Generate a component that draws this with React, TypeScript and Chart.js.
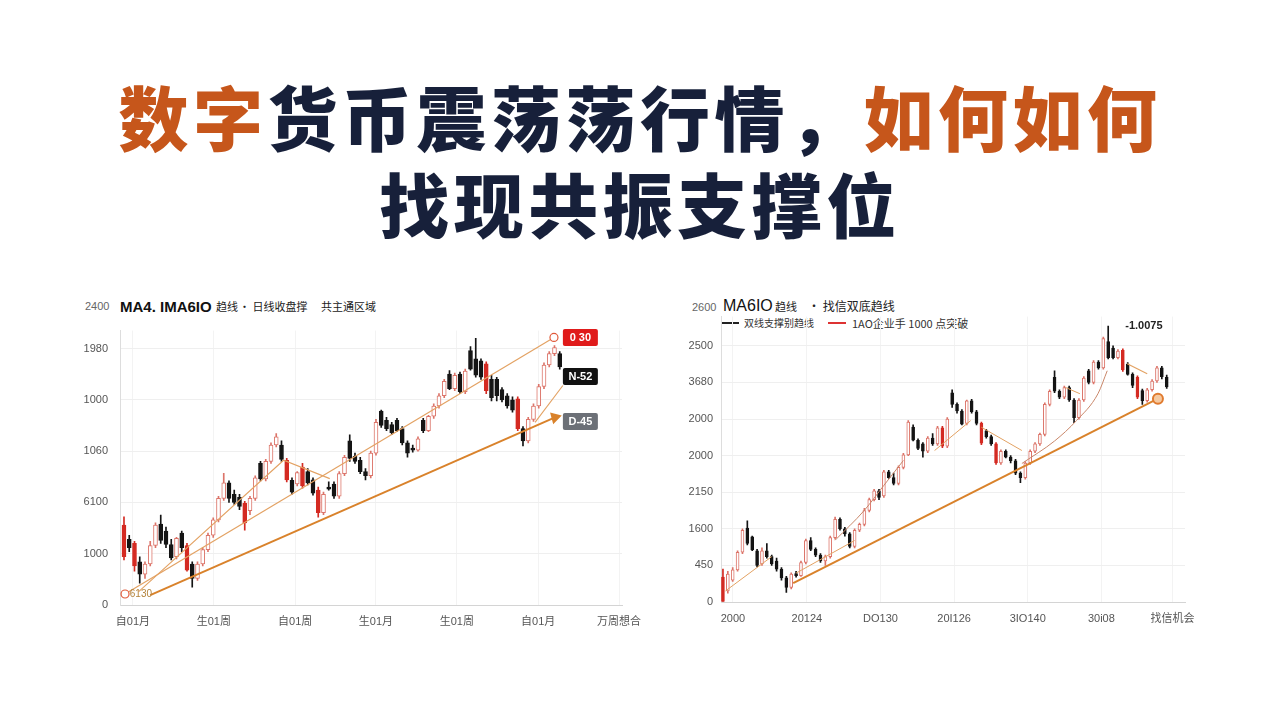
import React, { useEffect, useRef } from "react";
import { Chart, registerables } from "chart.js";
Chart.register(...registerables);

// ---------- Left chart data: [open, high, low, close] ----------
const leftCandles: number[][] = [
  [780, 860, 440, 470], [640, 680, 520, 560], [600, 620, 330, 380], [420, 470, 214, 300],
  [300, 420, 260, 400], [400, 620, 380, 580], [580, 800, 560, 780], [790, 876, 600, 630],
  [720, 760, 560, 590], [590, 640, 440, 460], [470, 660, 450, 650], [700, 720, 520, 560],
  [580, 600, 330, 340], [400, 420, 175, 260], [260, 420, 240, 400], [400, 560, 380, 540],
  [540, 700, 520, 680], [680, 850, 660, 830], [830, 1060, 810, 1040], [1040, 1284, 1020, 1190],
  [1190, 1210, 1000, 1040], [1080, 1120, 980, 1000], [1050, 1080, 930, 960], [990, 1010, 730, 800],
  [920, 1060, 880, 1040], [1040, 1260, 1020, 1240], [1380, 1400, 1210, 1230], [1230, 1420, 1210, 1400],
  [1400, 1580, 1380, 1560], [1560, 1670, 1540, 1640], [1560, 1600, 1400, 1420], [1410, 1430, 1200, 1220],
  [1216, 1240, 1080, 1100], [1180, 1300, 1160, 1290], [1345, 1380, 1140, 1160], [1300, 1330, 1170, 1190],
  [1220, 1240, 1070, 1090], [1120, 1150, 856, 900], [900, 1100, 880, 1080], [1150, 1200, 1120, 1130],
  [1180, 1200, 1040, 1060], [1060, 1300, 1040, 1280], [1280, 1460, 1260, 1440], [1600, 1660, 1400, 1430],
  [1450, 1480, 1380, 1400], [1410, 1440, 1280, 1300], [1300, 1330, 1220, 1260], [1260, 1500, 1240, 1480],
  [1480, 1810, 1460, 1780], [1890, 1900, 1730, 1750], [1800, 1830, 1700, 1720], [1760, 1780, 1660, 1680],
  [1800, 1820, 1690, 1700], [1720, 1740, 1560, 1580], [1580, 1600, 1440, 1480], [1520, 1560, 1490, 1510],
  [1510, 1640, 1500, 1620], [1800, 1820, 1680, 1700], [1700, 1850, 1690, 1840], [1840, 1960, 1820, 1940],
  [1940, 2060, 1920, 2040], [2040, 2200, 2020, 2180], [2250, 2285, 2100, 2110], [2110, 2260, 2090, 2240],
  [2250, 2270, 2060, 2080], [2080, 2300, 2060, 2280], [2480, 2520, 2290, 2300], [2400, 2600, 2220, 2240],
  [2380, 2400, 2200, 2220], [2350, 2370, 2060, 2090], [2200, 2240, 1990, 2020], [2200, 2220, 1990, 2040],
  [2100, 2120, 1980, 2000], [2040, 2060, 1920, 1940], [2000, 2030, 1880, 1900], [2010, 2030, 1700, 1720],
  [1720, 1740, 1550, 1600], [1600, 1830, 1580, 1810], [1810, 1960, 1790, 1940], [1940, 2150, 1920, 2130],
  [2130, 2360, 2110, 2340], [2340, 2470, 2320, 2450], [2450, 2530, 2430, 2510], [2450, 2470, 2300, 2320],
];
const leftXTickPos = [1.7, 17.1, 32.6, 48, 63.4, 78.9, 94.3];
const leftXLabels = ["自01月", "生01周", "自01周", "生01月", "生01周", "自01月", "万周想合"];
const leftYTickPos = [0, 500, 1000, 1500, 2000, 2500];
const leftYLabels = ["0", "1000", "6100", "1060", "1000", "1980"];
const leftSupport = [[5, 97], [82.1, 1829]];
const leftUpper = [[0.2, 107], [81.9, 2608]];
const leftMA = [[2.8, 130], [30.4, 1411], [39.2, 1232]];
const leftShort = [[78.3, 1780], [83.6, 2140]];
const leftTagTexts = ["0 30", "N-52", "D-45"];
const leftTagValues = [2608, 2228, 1790];
const leftStartText = "6130";

// ---------- Right chart data ----------
const rightCandles: number[][] = [
  [340, 450, 0, 0], [150, 420, 120, 380], [300, 470, 280, 440], [440, 700, 420, 680],
  [680, 1000, 660, 980], [1010, 1110, 780, 800], [890, 900, 700, 710], [700, 720, 480, 500],
  [520, 740, 500, 700], [700, 800, 600, 620], [620, 640, 500, 520], [560, 600, 420, 450],
  [450, 470, 300, 330], [330, 350, 130, 200], [200, 400, 180, 380], [380, 420, 340, 360],
  [360, 560, 350, 540], [540, 860, 520, 840], [840, 880, 700, 720], [720, 740, 620, 640],
  [640, 660, 540, 560], [560, 640, 500, 620], [620, 900, 600, 880], [880, 1160, 860, 1130],
  [1130, 1150, 980, 1000], [1000, 1020, 900, 930], [930, 950, 740, 760], [760, 1000, 740, 980],
  [980, 1080, 960, 1060], [1060, 1280, 1040, 1250], [1250, 1420, 1230, 1400], [1400, 1540, 1380, 1520],
  [1520, 1540, 1400, 1430], [1450, 1800, 1430, 1780], [1780, 1800, 1690, 1700], [1700, 1760, 1600, 1620],
  [1620, 1860, 1600, 1840], [1840, 2030, 1820, 2010], [2010, 2480, 2000, 2460], [2390, 2420, 2200, 2210],
  [2210, 2230, 2080, 2100], [2160, 2180, 1980, 2060], [2060, 2260, 2040, 2240], [2240, 2300, 2140, 2160],
  [2160, 2400, 2140, 2380], [2380, 2400, 2110, 2130], [2130, 2520, 2110, 2500], [2860, 2900, 2660, 2700],
  [2700, 2720, 2580, 2610], [2610, 2630, 2420, 2430], [2440, 2760, 2420, 2750], [2750, 2770, 2580, 2600],
  [2600, 2620, 2420, 2440], [2440, 2460, 2150, 2170], [2340, 2360, 2240, 2260], [2260, 2280, 2140, 2160],
  [2160, 2180, 1880, 1900], [1900, 2080, 1880, 2060], [2060, 2080, 1970, 1980], [1980, 2000, 1900, 1930],
  [1930, 1950, 1740, 1760], [1760, 1780, 1630, 1700], [1700, 1920, 1680, 1900], [1900, 2080, 1880, 2060],
  [2060, 2180, 2040, 2160], [2160, 2310, 2140, 2290], [2290, 2720, 2270, 2700], [2700, 2900, 2680, 2880],
  [3070, 3160, 2860, 2880], [2880, 2900, 2780, 2800], [2800, 2950, 2780, 2930], [2930, 2950, 2740, 2760],
  [2760, 2780, 2450, 2520], [2520, 2780, 2500, 2760], [2760, 3080, 2740, 3060], [3160, 3180, 2980, 3000],
  [3000, 3300, 2980, 3280], [3280, 3300, 3180, 3200], [3200, 3620, 3180, 3600], [3560, 3770, 3320, 3340],
  [3470, 3500, 3320, 3340], [3340, 3450, 3320, 3430], [3440, 3460, 3150, 3170], [3250, 3270, 3100, 3110],
  [3110, 3130, 2930, 2960], [3070, 3090, 2780, 2800], [2890, 2910, 2700, 2750], [2750, 2920, 2730, 2900],
  [2900, 3040, 2880, 3020], [3020, 3220, 3000, 3200], [3200, 3220, 3050, 3080], [3070, 3100, 2920, 2940],
];
const rightXTickPos = [2.05, 17.2, 32.3, 47.4, 62.5, 77.6, 92.2];
const rightXLabels = ["2000", "20124", "DO130", "20I126", "3IO140", "30i08", "找信机会"];
const rightYTickPos = [0, 500, 1000, 1500, 2000, 2500, 3000, 3500];
const rightYLabels = ["0", "450", "1600", "2150", "2000", "2000", "3680", "2500"];
const rightSupport = [[14.4, 259], [89.2, 2778]];
const rightEarly = [[0.5, 150], [10, 620]];
const rightMA1 = [[15, 395], [27, 840]];
const rightCurve1 = [[23, 844], [29, 1253], [33, 1594], [37, 1934]];
const rightSeg1 = [[43.4, 2070], [50.8, 2479]];
const rightSeg2 = [[53, 2388], [61.3, 2070]];
const rightCurve2 = [[61.3, 1893], [68, 2200], [72.5, 2479], [76.9, 2846], [78.8, 3160]];
const rightSeg3 = [[70.2, 2933], [73.2, 2846]];
const rightSeg4 = [[82.9, 3255], [87, 3119]];
const rightPeakText = "-1.0075";
const rightPeakPos = [82.5, 3773];

// ---------- styling ----------
const FONT = '"Liberation Sans", "Noto Sans CJK SC", sans-serif';
const CJK = '"Noto Sans CJK SC", "Liberation Sans", sans-serif';
const UP = "#dc7469";
const RED = "#d42a22";
const BLACK = "#141414";
const ORANGE = "#d9822b";
const ORANGE_LIGHT = "#e3a263";

function candleDatasets(candles: number[][], bodyW: number, redThreshold: number) {
  const colorOf = (k: number[]) => (k[3] >= k[0] ? UP : k[0] - k[3] > redThreshold ? RED : BLACK);
  return [
    {
      type: "bar",
      data: candles.map((k, i) => ({ x: i, y: [k[2], k[1]] })),
      backgroundColor: candles.map(colorOf),
      barThickness: 1,
      grouped: false,
      order: 3,
    },
    {
      type: "bar",
      data: candles.map((k, i) => ({ x: i, y: [Math.min(k[0], k[3]), Math.max(k[0], k[3])] })),
      backgroundColor: candles.map((k) => (k[3] >= k[0] ? "#ffffff" : colorOf(k))),
      borderColor: candles.map(colorOf),
      borderWidth: 1,
      borderSkipped: false,
      barThickness: bodyW,
      minBarLength: 2,
      grouped: false,
      order: 2,
    },
  ];
}

function lineDs(pts: number[][], color: string, width: number, extra: any = {}) {
  return {
    type: "line",
    data: pts.map(([x, y]) => ({ x, y })),
    borderColor: color,
    borderWidth: width,
    pointRadius: 0,
    fill: false,
    tension: 0,
    order: 1,
    ...extra,
  };
}

function scalesFor(xMin: number, xMax: number, xPos: number[], xLab: string[], yMax: number, yPos: number[], yLab: string[], yWidth: number, yPad: number) {
  return {
    x: {
      type: "linear",
      min: xMin,
      max: xMax,
      offset: false,
      afterBuildTicks: (ax: any) => { ax.ticks = xPos.map((v) => ({ value: v })); },
      afterFit: (ax: any) => { ax.height = 30; },
      ticks: { autoSkip: false, maxRotation: 0, padding: 10, color: "#555", font: { family: FONT, size: 11 }, callback: (_v: any, i: number) => xLab[i] },
      grid: { color: "#f3f3f3", drawTicks: false, offset: false },
      border: { color: "#d4d4d4" },
    },
    y: {
      type: "linear",
      min: 0,
      max: yMax,
      afterBuildTicks: (ax: any) => { ax.ticks = yPos.map((v) => ({ value: v })); },
      afterFit: (ax: any) => { ax.width = yWidth; },
      ticks: { padding: yPad, color: "#555", font: { family: FONT, size: 11 }, callback: (_v: any, i: number) => yLab[i] },
      grid: { color: "#efefef", drawTicks: false },
      border: { color: "#dddddd" },
    },
  };
}

const leftOverlay = {
  id: "leftOverlay",
  afterDatasetsDraw(chart: any) {
    const { ctx, scales } = chart;
    const x = scales.x, y = scales.y;
    ctx.save();
    const colors = ["#e01b1b", "#111111", "#6c7077"];
    const left = x.getPixelForValue(83.6);
    leftTagTexts.forEach((t, i) => {
      const cy = y.getPixelForValue(leftTagValues[i]);
      ctx.fillStyle = colors[i];
      ctx.beginPath();
      ctx.roundRect(left, cy - 8.5, 35, 17, 2);
      ctx.fill();
      ctx.fillStyle = "#ffffff";
      ctx.font = `bold 11px ${FONT}`;
      ctx.textAlign = "center";
      ctx.textBaseline = "middle";
      ctx.fillText(t, left + 17.5, cy + 0.5);
    });
    ctx.fillStyle = "#b4843c";
    ctx.font = `10px ${FONT}`;
    ctx.textAlign = "left";
    ctx.textBaseline = "middle";
    ctx.fillText(leftStartText, x.getPixelForValue(1.1), y.getPixelForValue(107));
    ctx.restore();
  },
};

const rightOverlay = {
  id: "rightOverlay",
  afterDatasetsDraw(chart: any) {
    const { ctx, scales } = chart;
    ctx.save();
    ctx.fillStyle = "#222";
    ctx.font = `bold 11px ${FONT}`;
    ctx.textAlign = "left";
    ctx.textBaseline = "middle";
    ctx.fillText(rightPeakText, scales.x.getPixelForValue(rightPeakPos[0]), scales.y.getPixelForValue(rightPeakPos[1]));
    ctx.restore();
  },
};

function leftConfig(): any {
  return {
    type: "bar",
    data: {
      datasets: [
        ...candleDatasets(leftCandles, 4, 180),
        lineDs(leftSupport, ORANGE, 2, { pointRadius: [0, 5], pointStyle: "triangle", pointRotation: 75, pointBackgroundColor: ORANGE, pointBorderColor: ORANGE }),
        lineDs(leftUpper, ORANGE_LIGHT, 1.2, { pointRadius: 4, pointBackgroundColor: "#ffffff", pointBorderColor: "#e05a3a", pointBorderWidth: 1.2 }),
        lineDs(leftMA, ORANGE_LIGHT, 1.1),
        lineDs(leftShort, ORANGE_LIGHT, 1.1),
      ],
    },
    options: {
      animation: false,
      responsive: false,
      maintainAspectRatio: false,
      layout: { autoPadding: false, padding: { top: 0, right: 30, left: 0, bottom: 0 } },
      plugins: { legend: { display: false }, tooltip: { enabled: false } },
      scales: scalesFor(-0.76, 94.86, leftXTickPos, leftXLabels, 2675, leftYTickPos, leftYLabels, 60, 12),
    },
    plugins: [leftOverlay],
  };
}

function rightConfig(): any {
  return {
    type: "bar",
    data: {
      datasets: [
        ...candleDatasets(rightCandles, 3, 245),
        lineDs(rightSupport, ORANGE, 2, { pointRadius: [0, 5], pointBackgroundColor: "#f5c9a0", pointBorderColor: "#e07a2e", pointBorderWidth: 2 }),
        lineDs(rightEarly, ORANGE_LIGHT, 1),
        lineDs(rightMA1, ORANGE_LIGHT, 1),
        lineDs(rightCurve1, "#c9876a", 1, { tension: 0.4, cubicInterpolationMode: "monotone" }),
        lineDs(rightSeg1, ORANGE_LIGHT, 1),
        lineDs(rightSeg2, ORANGE_LIGHT, 1),
        lineDs(rightCurve2, "#c9876a", 1, { tension: 0.4, cubicInterpolationMode: "monotone" }),
        lineDs(rightSeg3, ORANGE_LIGHT, 1),
        lineDs(rightSeg4, ORANGE_LIGHT, 1.2),
      ],
    },
    options: {
      animation: false,
      responsive: false,
      maintainAspectRatio: false,
      layout: { autoPadding: false, padding: { top: 0, right: 35, left: 0, bottom: 0 } },
      plugins: { legend: { display: false }, tooltip: { enabled: false } },
      scales: scalesFor(-0.4, 94.75, rightXTickPos, rightXLabels, 3900, rightYTickPos, rightYLabels, 61, 8),
    },
    plugins: [rightOverlay],
  };
}

function ChartCanvas({ make, left, top, width, height }: any) {
  const ref = useRef<HTMLCanvasElement>(null);
  useEffect(() => {
    if (!ref.current) return;
    const chart = new Chart(ref.current, make());
    return () => chart.destroy();
  }, []);
  return (
    <canvas ref={ref} width={width} height={height} style={{ position: "absolute", left, top, width, height }} />
  );
}

function T({ x, y, size, weight = 400, color = "#222", family = CJK, children }: any) {
  return (
    <div style={{ position: "absolute", left: x, top: y - size / 2, fontSize: size, lineHeight: `${size}px`, fontWeight: weight, color, fontFamily: family, whiteSpace: "nowrap" }}>
      {children}
    </div>
  );
}

export default function App() {
  const navy = "#17203a";
  const orange = "#c6561b";
  const titleStyle: any = {
    position: "absolute", left: 0, width: 1280, textAlign: "center", fontFamily: CJK,
    fontWeight: 900, fontSize: 70, lineHeight: "72px", letterSpacing: "4.5px", color: navy, whiteSpace: "nowrap",
  };
  return (
    <div style={{ position: "absolute", left: 0, top: 0, width: 1280, height: 720, background: "#ffffff", overflow: "hidden" }}>
      <div style={{ ...titleStyle, top: 80 }}>
        <span style={{ color: orange }}>数字</span>货币震荡荡行情，<span style={{ color: orange }}>如何如何</span>
      </div>
      <div style={{ ...titleStyle, top: 167 }}>找现共振支撑位</div>

      {/* left legend */}
      <T x={85} y={306} size={11} color="#666" family={FONT}>2400</T>
      <T x={120} y={306} size={15} weight={700} color="#111" family={FONT}>MA4. IMA6IO</T>
      <T x={216} y={306} size={11} color="#222">趋线</T>
      <T x={239} y={306} size={11} color="#222">• 日线收盘撑</T>
      <T x={321} y={306} size={11} color="#222">共主通区域</T>

      {/* right legend */}
      <T x={692} y={307} size={11} color="#666" family={FONT}>2600</T>
      <T x={723} y={306} size={16} weight={500} color="#111" family={FONT}>MA6IO</T>
      <T x={775} y={306} size={11} color="#222">趋线</T>
      <T x={808} y={306} size={12} color="#222">• 找信双底趋线</T>
      <div style={{ position: "absolute", left: 721, top: 322, width: 18, height: 2, background: "#222" }} />
      <T x={744} y={323} size={10} color="#333">双线支撑别趋线</T>
      <div style={{ position: "absolute", left: 828, top: 322, width: 18, height: 2, background: "#d33" }} />
      <T x={852} y={323} size={11} color="#333">1AO企业手 1000 点突破</T>

      <ChartCanvas make={leftConfig} left={60} top={312} width={592} height={323} />
      <ChartCanvas make={rightConfig} left={660} top={302} width={560} height={330} />
    </div>
  );
}
